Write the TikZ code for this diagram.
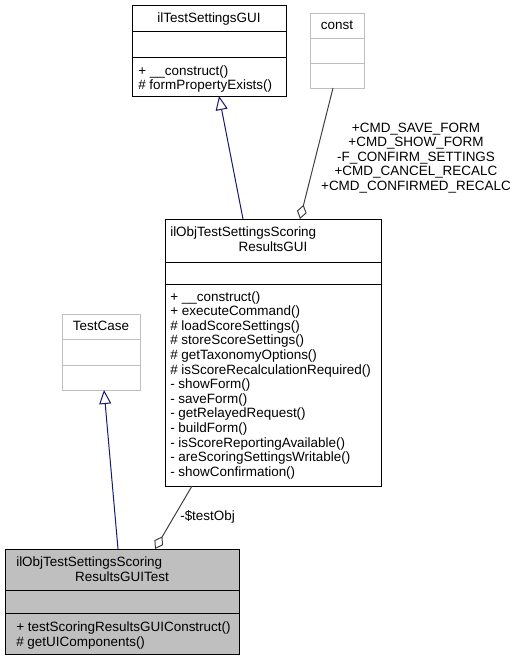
\documentclass[tikz,border=0pt]{standalone}
\usepackage{fontspec}
\setmainfont{Liberation Sans}
\usetikzlibrary{arrows.meta,fit}
\definecolor{navy}{HTML}{191970}
\definecolor{edgegray}{HTML}{404040}
\definecolor{lightgr}{HTML}{BFBFBF}
\begin{document}
\begin{tikzpicture}[x=0.75pt,y=-0.75pt,
  font=\fontsize{10.1}{10.9}\selectfont,
  box/.style={draw=black, line width=0.75pt, inner sep=0pt, outer sep=0pt},
  gbox/.style={draw=lightgr, line width=0.75pt, inner sep=0pt, outer sep=0pt},
  mem/.style={anchor=base west, inner sep=0pt},
  ttl/.style={anchor=base, inner sep=0pt},
  inh/.style={draw=navy, line width=0.75pt, -{Triangle[open, length=10.5pt, width=9pt, fill=white]}},
  comp/.style={draw=edgegray, line width=0.75pt, -{Diamond[open, length=11pt, width=7.5pt, fill=white]}},
  lbl/.style={inner sep=0pt, align=center}]
\useasboundingbox (0,0) rectangle (517,661);

% ilTestSettingsGUI
\node[box, fit={(132,5) (286,96)}] (base) {};
\draw[line width=0.75pt] (base.west |- 0,31) -- (base.east |- 0,31);
\draw[line width=0.75pt] (base.west |- 0,57) -- (base.east |- 0,57);
\node[ttl] (baset) at (209,22.5) {ilTestSettingsGUI};
\node[mem] (basem1) at (138,75.5) {+ \_\_construct()};
\node[mem] (basem2) at (138,89.5) {\# formPropertyExists()};

% const
\node[gbox, fit={(310,13) (364,88)}] (cst) {};
\draw[lightgr, line width=0.75pt] (cst.west |- 0,38) -- (cst.east |- 0,38);
\draw[lightgr, line width=0.75pt] (cst.west |- 0,63) -- (cst.east |- 0,63);
\node[ttl] (cstt) at (337,29.5) {const};

% main GUI
\node[box, fit={(165,219) (381,486)}] (gui) {};
\draw[line width=0.75pt] (gui.west |- 0,262) -- (gui.east |- 0,262);
\draw[line width=0.75pt] (gui.west |- 0,284) -- (gui.east |- 0,284);
\node[mem] (guit1) at (170,236) {ilObjTestSettingsScoring};
\node[ttl] (guit2) at (273,251) {ResultsGUI};
\foreach \t [count=\i] in {+ \_\_construct(), + executeCommand(), \# loadScoreSettings(),
  \# storeScoreSettings(), \# getTaxonomyOptions(), \# isScoreRecalculationRequired(),
  - showForm(), - saveForm(), - getRelayedRequest(), - buildForm(),
  - isScoreReportingAvailable(), - areScoringSettingsWritable(), - showConfirmation()}
  \node[mem] (guim\i) at (170,{301+(\i-1)*14.6}) {\t};

% TestCase
\node[gbox, fit={(62,314) (140,390)}] (tc) {};
\draw[lightgr, line width=0.75pt] (tc.west |- 0,339) -- (tc.east |- 0,339);
\draw[lightgr, line width=0.75pt] (tc.west |- 0,365) -- (tc.east |- 0,365);
\node[ttl] (tct) at (101,330.5) {TestCase};

% Test class
\node[box, fill=lightgr, fit={(5,549) (239,654)}] (test) {};
\draw[line width=0.75pt] (test.west |- 0,590) -- (test.east |- 0,590);
\draw[line width=0.75pt] (test.west |- 0,613) -- (test.east |- 0,613);
\node[mem] (testt1) at (16,566.5) {ilObjTestSettingsScoring};
\node[ttl] (testt2) at (122,581) {ResultsGUITest};
\node[mem] (testm1) at (16,631.5) {+ testScoringResultsGUIConstruct()};
\node[mem] (testm2) at (16,646) {\# getUIComponents()};

% edges
\draw[inh] (gui.north -| 243,0) -- (base.south -| 219,0);
\draw[comp] (cst.south -| 333,0) -- (gui.north -| 300,0);
\node[lbl] (cstl) at (416,158) {+CMD\_SAVE\_FORM\\+CMD\_SHOW\_FORM\\-F\_CONFIRM\_SETTINGS\\+CMD\_CANCEL\_RECALC\\+CMD\_CONFIRMED\_RECALC};
\draw[inh] (test.north -| 118,0) -- (tc.south -| 104,0);
\draw[comp] (gui.south -| 192,0) -- (test.north -| 155,0);
\node[inner sep=0pt, anchor=west] (tol) at (180,517) {-\$testObj};
\end{tikzpicture}
\end{document}
